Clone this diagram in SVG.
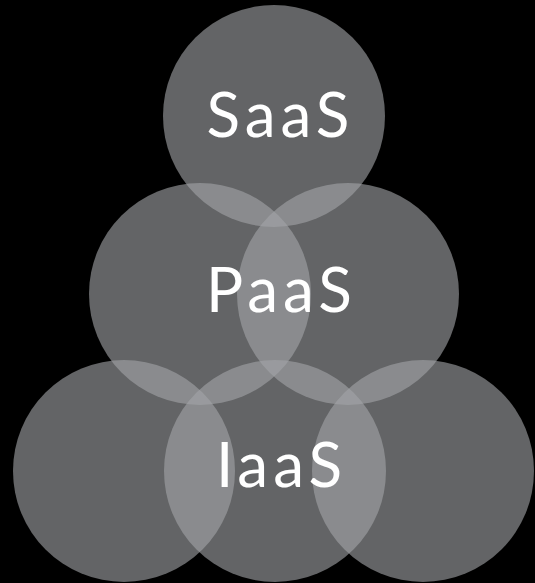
<svg xmlns="http://www.w3.org/2000/svg" width="535" height="583" viewBox="0 0 535 583">
<style>
.c{fill:rgb(163,165,168);fill-opacity:0.606}
.t{fill:#ffffff;font-family:Lato,"Open Sans","Liberation Sans",sans-serif;font-size:62px;text-anchor:middle;letter-spacing:5px}
</style>
<rect width="535" height="583" fill="#000000"/>
<g id="nodes">
<g id="saas"><circle class="c" cx="274" cy="116" r="111"/></g>
<g id="paas-left"><circle class="c" cx="200" cy="294" r="111"/></g>
<g id="paas-right"><circle class="c" cx="348" cy="294" r="111"/></g>
<g id="iaas-left"><circle class="c" cx="124" cy="471" r="111"/></g>
<g id="iaas-mid"><circle class="c" cx="275" cy="471" r="111"/></g>
<g id="iaas-right"><circle class="c" cx="423" cy="471" r="111"/></g>
</g>
<g id="connectors"></g>
<g id="labels">
<text class="t" x="280.5" y="137">SaaS</text>
<text class="t" x="281.5" y="312">PaaS</text>
<text class="t" x="281.5" y="487">IaaS</text>
</g>
</svg>
